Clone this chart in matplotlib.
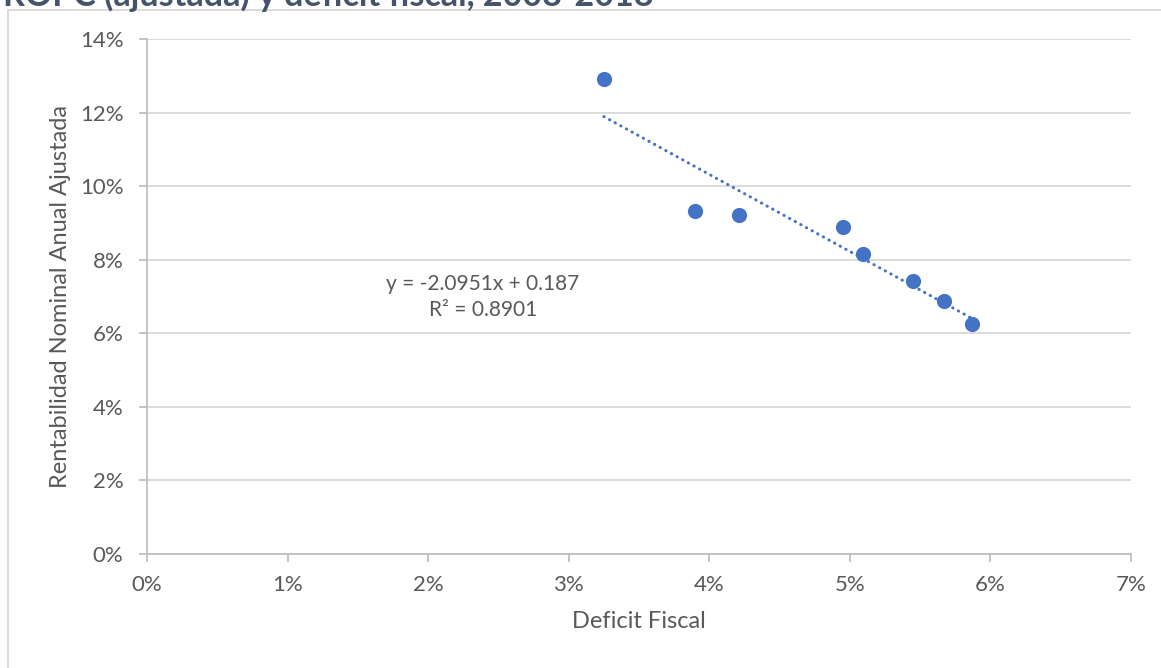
import numpy as np
import matplotlib.pyplot as plt
from matplotlib.lines import Line2D
from matplotlib.ticker import FuncFormatter

plt.rcParams['font.family'] = ['Lato', 'DejaVu Sans']

# deficit fiscal vs rentabilidad nominal anual ajustada (fracciones)
deficit = [0.0325, 0.0390, 0.0421, 0.0495, 0.0509, 0.0545, 0.0567, 0.0587]
rentabilidad = [0.1290, 0.0932, 0.0922, 0.0890, 0.0815, 0.0742, 0.0689, 0.0624]

# coeficientes de la tendencia lineal
pendiente = -2.0951
intercepto = 0.187
r2 = 0.8901

titulo = 'ROPC (ajustada) y deficit fiscal, 2008-2018'
x_ticks = [0, 0.01, 0.02, 0.03, 0.04, 0.05, 0.06, 0.07]
y_ticks = [0, 0.02, 0.04, 0.06, 0.08, 0.10, 0.12, 0.14]

azul = '#4472C4'
gris_texto = '#595959'
gris_eje = '#BFBFBF'
gris_grid = '#D9D9D9'

fig = plt.figure(figsize=(11.61, 6.68), dpi=100)
ax = fig.add_axes([147 / 1161, 1 - 554 / 668, 984 / 1161, 515 / 668])

ax.scatter(deficit, rentabilidad, s=120, color=azul, zorder=3, linewidths=0)

# linea de tendencia punteada sobre el rango de los datos
xt = np.array([min(deficit), max(deficit)])
ax.plot(xt, pendiente * xt + intercepto, color=azul, lw=2.2,
        linestyle=(0, (0.1, 2.0)), dash_capstyle='round', zorder=2)

ax.text(0.0239, 0.0698, 'y = -2.0951x + 0.187\nR² = %.4f' % r2,
        ha='center', va='center', fontsize=15, color=gris_texto,
        linespacing=1.35)

ax.set_xlim(0, 0.07)
ax.set_ylim(0, 0.14)
ax.set_xticks(x_ticks)
ax.set_yticks(y_ticks)
pct = FuncFormatter(lambda v, p: '%d%%' % round(v * 100))
ax.xaxis.set_major_formatter(pct)
ax.yaxis.set_major_formatter(pct)

ax.grid(axis='y', color=gris_grid, lw=1.3)
ax.set_axisbelow(True)
for s in ['top', 'right']:
    ax.spines[s].set_visible(False)
for s in ['left', 'bottom']:
    ax.spines[s].set_color(gris_eje)
    ax.spines[s].set_linewidth(1.3)
ax.tick_params(axis='both', colors=gris_eje, length=6, width=1.3,
               labelcolor=gris_texto, labelsize=16)
ax.tick_params(axis='x', pad=9)
ax.tick_params(axis='y', pad=11)

ax.set_xlabel('Deficit Fiscal', fontsize=17, color=gris_texto, labelpad=12)
ax.set_ylabel('Rentabilidad Nominal Anual Ajustada', fontsize=17,
              color=gris_texto, labelpad=6)

# marco del area del grafico
fig.add_artist(Line2D([8 / 1161, 8 / 1161], [0, 1 - 10 / 668],
                      transform=fig.transFigure, color=gris_grid, lw=1.3))
fig.add_artist(Line2D([8 / 1161, 1], [1 - 10 / 668, 1 - 10 / 668],
                      transform=fig.transFigure, color=gris_grid, lw=1.3))

fig.text(3 / 1161, 1 - 6 / 668, titulo, fontsize=24.5, fontweight='bold',
         color='#44546A', ha='left', va='baseline')

fig.savefig('out.png', dpi=100)
